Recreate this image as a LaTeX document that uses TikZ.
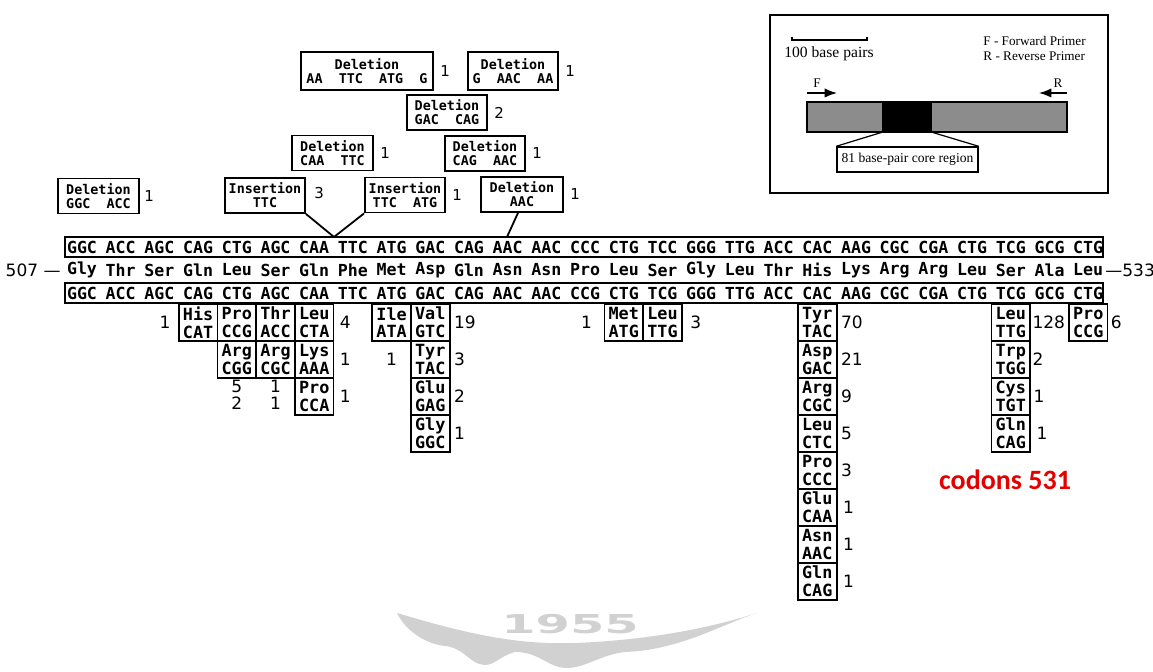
\documentclass[tikz,border=0pt]{standalone}
\usepackage{fontspec}
\setmainfont{Liberation Serif}
\setsansfont{DejaVu Sans}
\setmonofont{DejaVu Sans Mono}
\newfontfamily\calibri{Carlito}
\usetikzlibrary{positioning,arrows.meta}

\newcommand{\seqfont}{\ttfamily\bfseries\fontsize{8.3}{9}\selectfont}
\newcommand{\boxfont}{\ttfamily\bfseries\fontsize{8.4}{8.8}\selectfont}
\newcommand{\evfont}{\ttfamily\bfseries\fontsize{6.7}{7.1}\selectfont}
\newcommand{\numfont}{\sffamily\fontsize{8.5}{8.2}\selectfont}

\tikzset{
  seqrow/.style={draw, line width=0.8pt, minimum width=519pt, minimum height=10pt, inner sep=0pt},
  seqtxt/.style={font=\seqfont, inner sep=0pt},
  evbox/.style={draw, line width=0.9pt, minimum height=17.5pt, inner sep=0pt, align=center, font=\evfont},
  mutbox/.style={draw, line width=0.9pt, minimum width=19.35pt, minimum height=18.5pt, inner sep=0pt, outer sep=0pt, align=center, font=\boxfont},
  cnt/.style={font=\numfont, inner sep=0pt, align=center},
  tcnt/.style={font=\sffamily\fontsize{7.5}{8}\selectfont, inner sep=0pt},
  insettxt/.style={font=\rmfamily\fontsize{6.6}{7.4}\selectfont, inner sep=0pt},
}

\begin{document}
\begin{tikzpicture}[x=0.5pt, y=-0.5pt, >=Latex]
  \useasboundingbox (0,0) rectangle (1153,672);

  % watermark
  \fill[black!18] (397,613) .. controls (470,635) and (520,645) .. (575,643)
    .. controls (650,640) and (710,628) .. (757,613)
    .. controls (720,625) and (680,650) .. (625,652)
    .. controls (600,655) and (585,668) .. (567,668)
    .. controls (548,668) and (540,652) .. (515,652)
    .. controls (500,656) and (495,665) .. (485,665)
    .. controls (470,665) and (465,648) .. (445,646)
    .. controls (425,644) and (405,630) .. (397,613) -- cycle;
  \node[font=\sffamily\bfseries\fontsize{13}{13}\selectfont, text=black!18] (wm) at (570,624) {\scalebox{1.9}[1]{1955}};

  % sequence rows
  \node[seqrow] (toprow) at (584,247) {};
  \node[seqrow] (botrow) at (584,293) {};
  \foreach \cd [count=\i from 0] in {GGC,ACC,AGC,CAG,CTG,AGC,CAA,TTC,ATG,GAC,CAG,AAC,AAC,CCC,CTG,TCC,GGG,TTG,ACC,CAC,AAG,CGC,CGA,CTG,TCG,GCG,CTG}
    \node[seqtxt] (t\i) at ({82+38.7*\i},247) {\cd};
  \foreach \aa [count=\i from 0] in {Gly,Thr,Ser,Gln,Leu,Ser,Gln,Phe,Met,Asp,Gln,Asn,Asn,Pro,Leu,Ser,Gly,Leu,Thr,His,Lys,Arg,Arg,Leu,Ser,Ala,Leu}
    \node[seqtxt] (a\i) at ({82+38.7*\i},270) {\aa};
  \foreach \cd [count=\i from 0] in {GGC,ACC,AGC,CAG,CTG,AGC,CAA,TTC,ATG,GAC,CAG,AAC,AAC,CCG,CTG,TCG,GGG,TTG,ACC,CAC,AAG,CGC,CGA,CTG,TCG,GCG,CTG}
    \node[seqtxt] (b\i) at ({82+38.7*\i},293) {\cd};
  \node[cnt, anchor=east] (n507) at (61,270) {507 \textemdash};
  \node[cnt, anchor=west] (n533) at (1105,270) {\textemdash533};

  % deletions and insertions
  \node[evbox, minimum width=40.5pt] (dGGC) at (98.5,196) {Deletion\\GGC~~ACC};
  \node[tcnt, right=2pt of dGGC] (kGGC) {1};
  \node[evbox, minimum width=40pt] (iTTC) at (265,195.5) {Insertion\\TTC};
  \node[tcnt, right=4pt of iTTC, yshift=1pt] (kTTC) {3};
  \node[evbox, minimum width=40pt] (iTTCATG) at (405,195) {Insertion\\TTC~~ATG};
  \node[tcnt, right=3pt of iTTCATG] (kTTCATG) {1};
  \node[evbox, minimum width=41pt] (dAAC) at (522,194.5) {Deletion\\AAC};
  \node[tcnt, right=3pt of dAAC] (kAAC) {1};
  \node[evbox, minimum width=40.5pt] (dCAATTC) at (332.5,153) {Deletion\\CAA~~TTC};
  \node[tcnt, right=3pt of dCAATTC] (kCAATTC) {1};
  \node[evbox, minimum width=40pt] (dCAGAAC) at (485,153.5) {Deletion\\CAG~~AAC};
  \node[tcnt, right=3pt of dCAGAAC] (kCAGAAC) {1};
  \node[evbox, minimum width=40pt] (dGACCAG) at (447,112.5) {Deletion\\GAC~~CAG};
  \node[tcnt, right=3pt of dGACCAG] (kGACCAG) {2};
  \node[evbox, minimum width=66pt, minimum height=19pt] (dAATTC) at (367,71) {Deletion\\AA~~TTC~~ATG~~G};
  \node[tcnt, right=3pt of dAATTC] (kAATTC) {1};
  \node[evbox, minimum width=45pt, minimum height=19pt] (dGAAC) at (513,71) {Deletion\\G~~AAC~~AA};
  \node[tcnt, right=3pt of dGAAC] (kGAAC) {1};

  \coordinate (ins) at (334,237);
  \coordinate (aac) at (507,237);
  \draw[line width=0.9pt] (iTTC.south east) -- (ins) -- (iTTCATG.south west);
  \draw[line width=0.9pt] ([xshift=-2pt]dAAC.south) -- (aac);

  % substitutions, codons 510-516
  \node[mutbox] (mHis) at ({82+38.7*3},322.5) {His\\CAT};
  \node[cnt, left=4pt of mHis] (kHis) {1};
  \node[mutbox] (mPro) at ({82+38.7*4},322.5) {Pro\\CCG};
  \node[mutbox, below=0pt of mPro] (mArgA) {Arg\\CGG};
  \node[cnt, below=1pt of mArgA] (kArgA) {5\\2};
  \node[mutbox] (mThr) at ({82+38.7*5},322.5) {Thr\\ACC};
  \node[mutbox, below=0pt of mThr] (mArgB) {Arg\\CGC};
  \node[cnt, below=1pt of mArgB] (kArgB) {1\\1};
  \node[mutbox] (mLeuA) at ({82+38.7*6},322.5) {Leu\\CTA};
  \node[cnt, right=3pt of mLeuA] (kLeuA) {4};
  \node[mutbox, below=0pt of mLeuA] (mLys) {Lys\\AAA};
  \node[cnt, right=3pt of mLys] (kLys) {1};
  \node[mutbox, below=0pt of mLys] (mProA) {Pro\\CCA};
  \node[cnt, right=3pt of mProA] (kProA) {1};
  \node[mutbox] (mIle) at ({82+38.7*8},322.5) {Ile\\ATA};
  \node[cnt, below=6pt of mIle] (kIle) {1};
  \node[mutbox] (mVal) at ({82+38.7*9},322.5) {Val\\GTC};
  \node[cnt, right=2pt of mVal] (kVal) {19};
  \node[mutbox, below=0pt of mVal] (mTyrA) {Tyr\\TAC};
  \node[cnt, right=2pt of mTyrA] (kTyrA) {3};
  \node[mutbox, below=0pt of mTyrA] (mGluA) {Glu\\GAG};
  \node[cnt, right=2pt of mGluA] (kGluA) {2};
  \node[mutbox, below=0pt of mGluA] (mGly) {Gly\\GGC};
  \node[cnt, right=2pt of mGly] (kGly) {1};

  % codons 521-522
  \node[mutbox] (mMet) at ({82+38.7*14},322.5) {Met\\ATG};
  \node[cnt, left=6pt of mMet] (kMet) {1};
  \node[mutbox] (mLeuB) at ({82+38.7*15},322.5) {Leu\\TTG};
  \node[cnt, right=4pt of mLeuB] (kLeuB) {3};

  % codon 526
  \node[mutbox] (mTyrB) at ({82+38.7*19},322.5) {Tyr\\TAC};
  \node[cnt, right=2pt of mTyrB] (kTyrB) {70};
  \node[mutbox, below=0pt of mTyrB] (mAsp) {Asp\\GAC};
  \node[cnt, right=2pt of mAsp] (kAsp) {21};
  \node[mutbox, below=0pt of mAsp] (mArgC) {Arg\\CGC};
  \node[cnt, right=2pt of mArgC] (kArgC) {9};
  \node[mutbox, below=0pt of mArgC] (mLeuC) {Leu\\CTC};
  \node[cnt, right=2pt of mLeuC] (kLeuC) {5};
  \node[mutbox, below=0pt of mLeuC] (mProB) {Pro\\CCC};
  \node[cnt, right=2pt of mProB] (kProB) {3};
  \node[mutbox, below=0pt of mProB] (mGluB) {Glu\\CAA};
  \node[cnt, right=3pt of mGluB] (kGluB) {1};
  \node[mutbox, below=0pt of mGluB] (mAsn) {Asn\\AAC};
  \node[cnt, right=3pt of mAsn] (kAsn) {1};
  \node[mutbox, below=0pt of mAsn] (mGlnA) {Gln\\CAG};
  \node[cnt, right=3pt of mGlnA] (kGlnA) {1};

  % codons 531 and 533
  \node[mutbox] (mLeuD) at ({82+38.7*24},322.5) {Leu\\TTG};
  \node[cnt, right=1pt of mLeuD] (kLeuD) {128};
  \node[mutbox, below=0pt of mLeuD] (mTrp) {Trp\\TGG};
  \node[cnt, right=1pt of mTrp] (kTrp) {2};
  \node[mutbox, below=0pt of mTrp] (mCys) {Cys\\TGT};
  \node[cnt, right=1.5pt of mCys] (kCys) {1};
  \node[mutbox, below=0pt of mCys] (mGlnB) {Gln\\CAG};
  \node[cnt, right=3pt of mGlnB] (kGlnB) {1};
  \node[mutbox] (mProC) at ({82+38.7*26},322.5) {Pro\\CCG};
  \node[cnt, right=1.5pt of mProC] (kProC) {6};

  \node[font=\calibri\bfseries\fontsize{14}{14}\selectfont, text=red!90!black] (c531) at (1005,480) {codons 531};

  % inset
  \draw[line width=0.8pt] (770,15) rectangle (1108,193);
  \draw[line width=0.6pt] (792,37) -- (792,40) -- (867,40) -- (867,37);
  \node[insettxt, font=\rmfamily\fontsize{7.8}{8}\selectfont] (bp) at (829,54) {100 base pairs};
  \node[insettxt, anchor=west, align=left] (legend) at (983,48.5) {F - Forward Primer\\R - Reverse Primer};
  \node[draw, fill=black!45, line width=0.8pt, minimum width=130pt, minimum height=15pt, inner sep=0pt] (bar) at (937,117) {};
  \node[fill=black, minimum width=25pt, minimum height=15pt, inner sep=0pt] (core) at (907,117) {};
  \node[draw, line width=0.7pt, minimum width=70.5pt, minimum height=12.5pt, inner sep=0pt, font=\rmfamily\fontsize{6.8}{7}\selectfont] (corelbl) at (907.5,159.5) {81 base-pair core region};
  \draw[line width=0.6pt] (core.south west) -- (corelbl.north west);
  \draw[line width=0.6pt] (core.south east) -- (corelbl.north east);
  \coordinate (f0) at (807,93);
  \coordinate (f1) at (837,93);
  \coordinate (r0) at (1067,93);
  \coordinate (r1) at (1039,93);
  \draw[->, line width=0.7pt] (f0) -- (f1);
  \draw[->, line width=0.7pt] (r0) -- (r1);
  \node[insettxt] (flbl) at (817,83) {F};
  \node[insettxt] (rlbl) at (1058,83) {R};
\end{tikzpicture}
\end{document}
